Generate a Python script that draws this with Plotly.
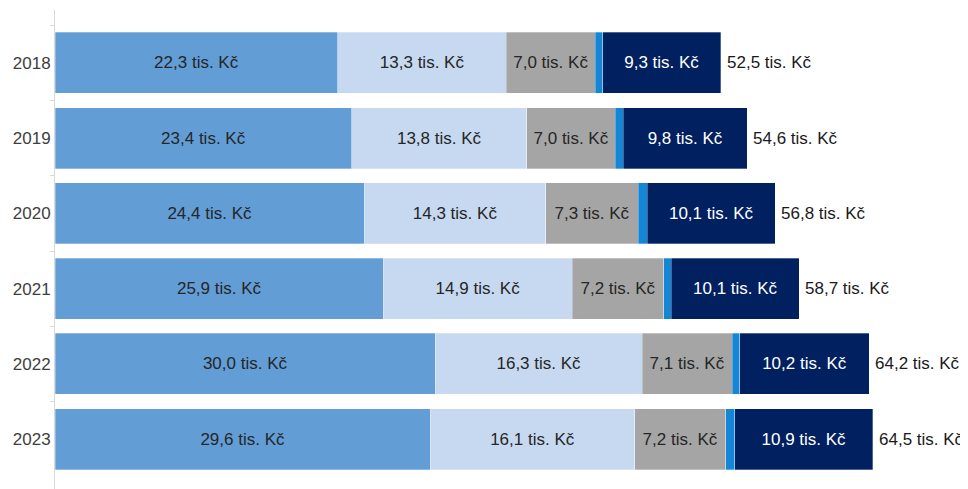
import plotly.graph_objects as go

years = ["2018", "2019", "2020", "2021", "2022", "2023"]
seg1 = [22.3, 23.4, 24.4, 25.9, 30.0, 29.6]
seg2 = [13.3, 13.8, 14.3, 14.9, 16.3, 16.1]
seg3 = [7.0, 7.0, 7.3, 7.2, 7.1, 7.2]
seg4 = [0.6, 0.6, 0.7, 0.6, 0.6, 0.7]
seg5 = [9.3, 9.8, 10.1, 10.1, 10.2, 10.9]
totals = [52.5, 54.6, 56.8, 58.7, 64.2, 64.5]

colors = ["#629DD6", "#C6D9F0", "#A5A5A5", "#1586D6", "#002060"]
textcolors = ["#262626", "#262626", "#262626", "#262626", "#FFFFFF"]
series = [seg1, seg2, seg3, seg4, seg5]
FONT = "Liberation Sans, Arial, sans-serif"
FS = 17

fig = go.Figure()
for i, (vals, col, tc) in enumerate(zip(series, colors, textcolors)):
    fig.add_trace(go.Bar(
        y=years, x=vals, orientation="h",
        marker=dict(color=col, line=dict(color="rgba(255,255,255,0.6)", width=0.5)),
        texttemplate="" if i == 3 else "%{x:.1f} tis. Kč",
        textposition="inside", insidetextanchor="middle", textangle=0,
        insidetextfont=dict(family=FONT, size=FS, color=tc),
        hoverinfo="x+y", showlegend=False,
    ))

for idx, t in enumerate(totals):
    fig.add_annotation(
        x=t, y=idx, xref="x", yref="y", xanchor="left", yanchor="middle",
        xshift=4, showarrow=False,
        text=f"{t:.1f}".replace(".", ",") + " tis. Kč",
        font=dict(family=FONT, size=FS, color="#1a1a1a"),
    )

fig.update_layout(
    barmode="stack", bargap=0.19,
    width=960, height=481,
    margin=dict(l=47, r=0, t=2, b=0),
    plot_bgcolor="white", paper_bgcolor="white",
    separators=", ",
    font=dict(family=FONT, size=FS, color="#404040"),
    xaxis=dict(visible=False, range=[0, 72]),
    yaxis=dict(
        type="category", categoryorder="array", categoryarray=years,
        range=[5.66, -0.7], automargin=False,
        showline=True, linecolor="#D9D9D9", linewidth=1,
        ticks="outside", tickson="boundaries", ticklen=4, tickcolor="#D9D9D9",
        showgrid=False, zeroline=False,
        tickfont=dict(family=FONT, size=FS, color="#404040"),
    ),
)

fig.write_html("out.html")
